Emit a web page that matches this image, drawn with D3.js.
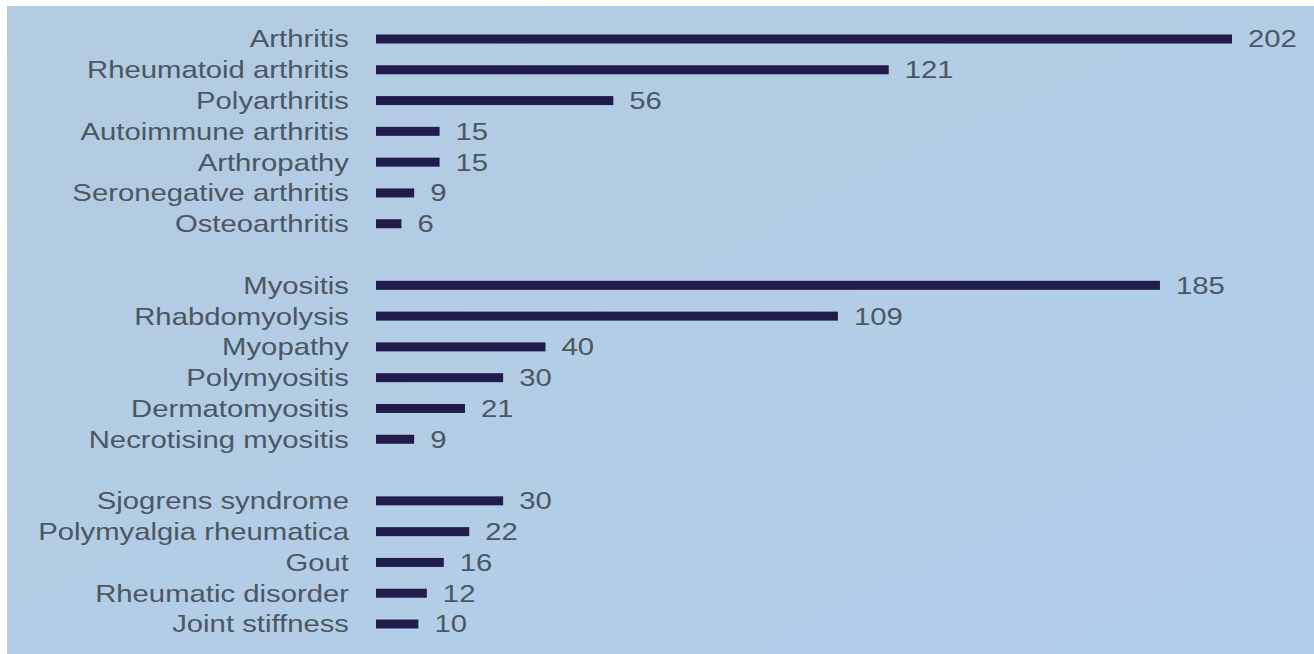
<!DOCTYPE html>
<html>
<head>
<meta charset="utf-8">
<script src="https://cdn.jsdelivr.net/npm/d3@7"></script>
<style>
  html, body { margin: 0; padding: 0; background: #ffffff; }
  svg { display: block; }
</style>
</head>
<body>
<svg id="chart" width="1314" height="654"></svg>
<script>
// ---- Data ----
const arthritisCategories = ["Arthritis", "Rheumatoid arthritis", "Polyarthritis", "Autoimmune arthritis", "Arthropathy", "Seronegative arthritis", "Osteoarthritis"];
const arthritisValues = [202, 121, 56, 15, 15, 9, 6];

const myositisCategories = ["Myositis", "Rhabdomyolysis", "Myopathy", "Polymyositis", "Dermatomyositis", "Necrotising myositis"];
const myositisValues = [185, 109, 40, 30, 21, 9];

const otherCategories = ["Sjogrens syndrome", "Polymyalgia rheumatica", "Gout", "Rheumatic disorder", "Joint stiffness"];
const otherValues = [30, 22, 16, 12, 10];

const groups = [
  { categories: arthritisCategories, values: arthritisValues },
  { categories: myositisCategories, values: myositisValues },
  { categories: otherCategories, values: otherValues }
];

// Build rows with a blank slot between groups
const rows = [];
const slots = [];
groups.forEach((g, gi) => {
  if (gi > 0) slots.push("__gap" + gi);
  g.categories.forEach((c, i) => {
    rows.push({ name: c, value: g.values[i] });
    slots.push(c);
  });
});

// ---- Layout ----
const W = 1314, H = 654;
const svg = d3.select("#chart");

// background: photo of a screen
svg.append("rect").attr("x", 0).attr("y", 0).attr("width", W).attr("height", H).attr("fill", "#ffffff");
const grad = svg.append("defs").append("linearGradient").attr("id", "bg")
  .attr("x1", "0").attr("y1", "0").attr("x2", "1").attr("y2", "1");
grad.append("stop").attr("offset", "0%").attr("stop-color", "#b2cbe0");
grad.append("stop").attr("offset", "55%").attr("stop-color", "#b3cde6");
grad.append("stop").attr("offset", "100%").attr("stop-color", "#b0cdeb");
svg.append("rect").attr("x", 7).attr("y", 6).attr("width", W - 7).attr("height", H - 6).attr("fill", "url(#bg)");

const y = d3.scalePoint().domain(slots).range([39, 624]);
const x = d3.scaleLinear().domain([0, 202]).range([376, 1232]);

const barH = 9;
const stretch = 1.22; // photo is horizontally stretched
const fontSize = 24;
const textColor = "#4b5762";
const barColor = "#221c4c";

// bars
svg.append("g").selectAll("rect").data(rows).join("rect")
  .attr("x", x(0))
  .attr("y", d => y(d.name) - barH / 2)
  .attr("width", d => x(d.value) - x(0))
  .attr("height", barH)
  .attr("fill", barColor);

// category labels
svg.append("g").selectAll("text").data(rows).join("text")
  .attr("transform", d => `translate(349,${y(d.name)}) scale(${stretch},1)`)
  .attr("dy", "0.35em")
  .attr("text-anchor", "end")
  .attr("font-family", "'Liberation Sans', Arial, sans-serif")
  .attr("font-size", fontSize)
  .attr("fill", textColor)
  .text(d => d.name);

// value labels
svg.append("g").selectAll("text").data(rows).join("text")
  .attr("transform", d => `translate(${x(d.value) + 16},${y(d.name)}) scale(${stretch},1)`)
  .attr("dy", "0.35em")
  .attr("text-anchor", "start")
  .attr("font-family", "'Liberation Sans', Arial, sans-serif")
  .attr("font-size", fontSize)
  .attr("fill", textColor)
  .text(d => d.value);
</script>
</body>
</html>
